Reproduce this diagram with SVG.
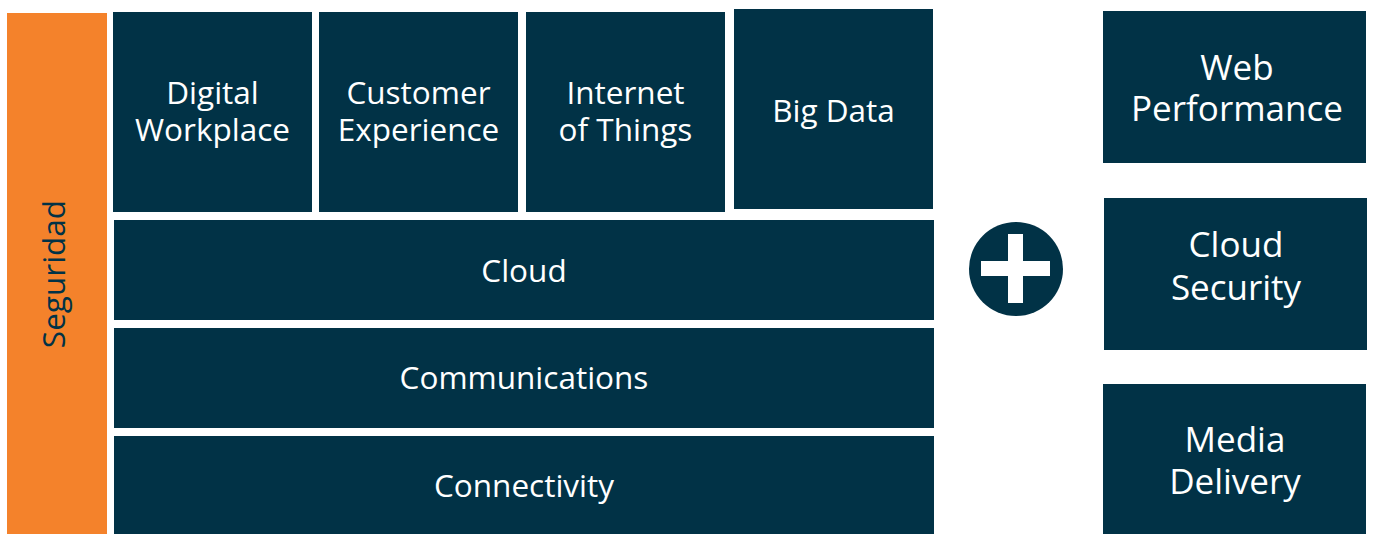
<svg xmlns="http://www.w3.org/2000/svg" width="1376" height="534" viewBox="0 0 1376 534">
<style>
.box{fill:#013246}
.t{font-family:"Open Sans","DejaVu Sans",sans-serif;font-size:31.5px;fill:#ffffff;text-anchor:middle}
.tr{font-family:"Open Sans","DejaVu Sans",sans-serif;font-size:35px;fill:#ffffff;text-anchor:middle}
</style>
<rect width="1376" height="534" fill="#ffffff"/>
<g id="seguridad">
<rect x="7" y="13" width="100" height="521" fill="#F4822B"/>
<text class="t" style="fill:#013246" transform="translate(65,274) rotate(-90)">Seguridad</text>
</g>
<g id="digital-workplace">
<rect class="box" x="113" y="12" width="199" height="200"/>
<text class="t"><tspan x="212.5" y="104">Digital</tspan><tspan x="212.5" y="141">Workplace</tspan></text>
</g>
<g id="customer-experience">
<rect class="box" x="319" y="12" width="199" height="200"/>
<text class="t"><tspan x="418.5" y="104">Customer</tspan><tspan x="418.5" y="141">Experience</tspan></text>
</g>
<g id="iot">
<rect class="box" x="526" y="12" width="199" height="200"/>
<text class="t"><tspan x="625.5" y="104">Internet</tspan><tspan x="625.5" y="141">of Things</tspan></text>
</g>
<g id="big-data">
<rect class="box" x="734" y="9" width="199" height="200"/>
<text class="t" x="833.5" y="122">Big Data</text>
</g>
<g id="cloud">
<rect class="box" x="114" y="220" width="820" height="100"/>
<text class="t" x="524" y="282">Cloud</text>
</g>
<g id="communications">
<rect class="box" x="114" y="328" width="820" height="100"/>
<text class="t" x="524" y="389">Communications</text>
</g>
<g id="connectivity">
<rect class="box" x="114" y="436" width="820" height="98"/>
<text class="t" x="524" y="497">Connectivity</text>
</g>
<g id="plus">
<circle cx="1016" cy="269" r="47" fill="#013246"/>
<rect x="981" y="261" width="69" height="15" fill="#ffffff"/>
<rect x="1008" y="234" width="15" height="69" fill="#ffffff"/>
</g>
<g id="web-performance">
<rect class="box" x="1103" y="11" width="263" height="152"/>
<text class="tr"><tspan x="1237" y="80">Web</tspan><tspan x="1237" y="121">Performance</tspan></text>
</g>
<g id="cloud-security">
<rect class="box" x="1104" y="198" width="263" height="152"/>
<text class="tr"><tspan x="1236" y="257">Cloud</tspan><tspan x="1236" y="300">Security</tspan></text>
</g>
<g id="media-delivery">
<rect class="box" x="1103" y="384" width="263" height="150"/>
<text class="tr"><tspan x="1235" y="452">Media</tspan><tspan x="1235" y="494">Delivery</tspan></text>
</g>
<g id="connectors"></g>
</svg>
